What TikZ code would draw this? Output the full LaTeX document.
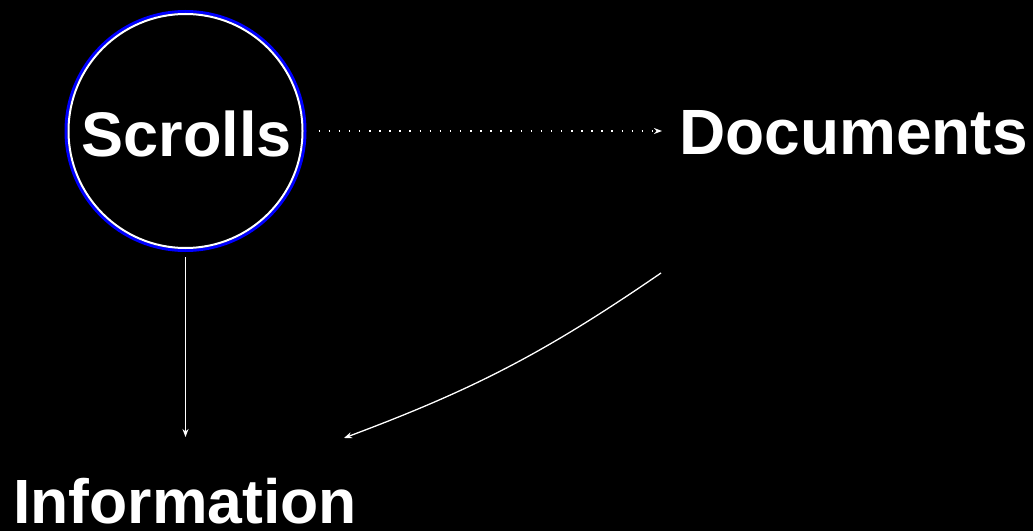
\documentclass[tikz,border=0pt]{standalone}
\usepackage{fontspec}
\setmainfont{Liberation Sans}
\usetikzlibrary{arrows.meta,calc}
\begin{document}
\begin{tikzpicture}[x=1pt,y=1pt,
  lbl/.style={text=white,font=\fontsize{63}{75}\selectfont\bfseries,inner sep=0pt},
  tip/.style={-{Stealth[length=8pt,width=6pt]}},
  conn/.style={draw=white,line width=1.3pt,tip},
  dotconn/.style={draw=white,line width=1.5pt,dash pattern=on 1.5pt off 8.6pt,tip}]
\fill[black] (0,0) rectangle (1033,531);
\useasboundingbox (0,0) rectangle (1033,531);
\node[circle,draw=blue,line width=3pt,minimum size=239pt,inner sep=0pt] (ring) at (185.5,400) {};
\draw[white,line width=2pt] (ring.center) circle (117pt);
\node[lbl,anchor=base] (scrolls) at (186.5,374) {Scrolls};
\node[lbl,anchor=base west,font=\fontsize{64}{76}\selectfont\bfseries] (docs) at (679,376) {Documents};
\node[lbl,anchor=base west,font=\fontsize{62.5}{75}\selectfont\bfseries] (info) at (13,8) {Information};
\draw[dotconn,shorten <=12pt,shorten >=17pt] (ring.east) -- (ring.east -| docs.west);
\draw[conn,shorten <=5pt] (ring.south) -- (ring.south |- 0,94);
\coordinate (cs) at (661,258);
\coordinate (ce) at (344,93);
\draw[conn] (cs) to[bend left=7] (ce);
\end{tikzpicture}
\end{document}
